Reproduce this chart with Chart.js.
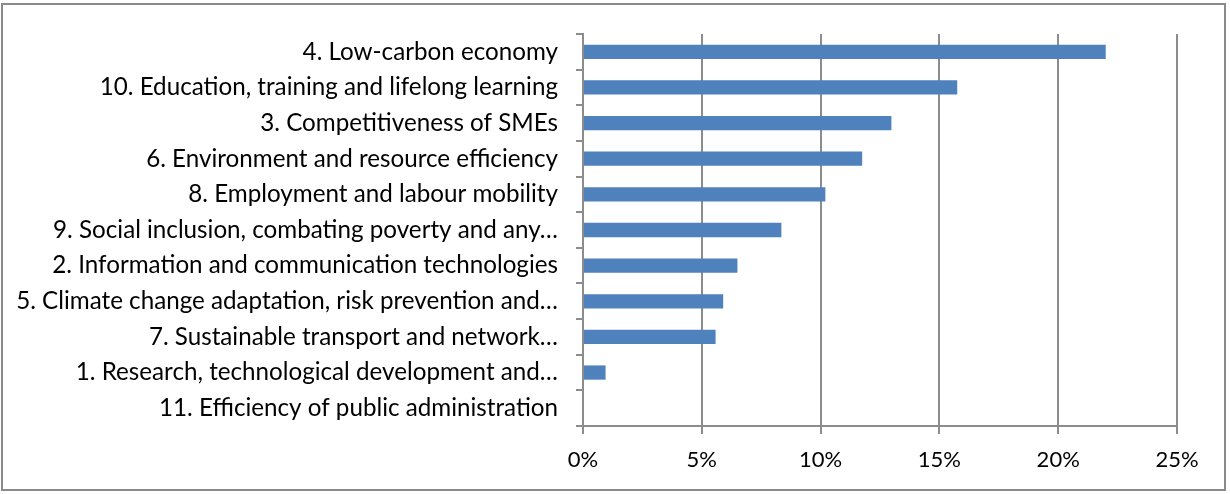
<!DOCTYPE html>
<html>
<head>
<meta charset="utf-8">
<script src="https://cdn.jsdelivr.net/npm/chart.js@4/dist/chart.umd.min.js"></script>
<style>
  html, body { margin: 0; padding: 0; background: #fff; }
  #wrap { position: absolute; left: 0; top: 0; width: 1230px; height: 494px; }
</style>
</head>
<body>
<div id="wrap"><canvas id="myChart" width="1230" height="494"></canvas></div>
<script>
// priority axes, share of allocation
var categories = [
    '4. Low-carbon economy',
    '10. Education, training and lifelong learning',
    '3. Competitiveness of SMEs',
    '6. Environment and resource efficiency',
    '8. Employment and labour mobility',
    '9. Social inclusion, combating poverty and any\u2026',
    '2. Information and communication technologies',
    '5. Climate change adaptation, risk prevention and\u2026',
    '7. Sustainable transport and network\u2026',
    '1. Research, technological development and\u2026',
    '11. Efficiency of public administration'
];
var shares = [22.0, 15.75, 12.98, 11.75, 10.2, 8.35, 6.5, 5.9, 5.58, 0.95, 0];
var xTicks = [0, 5, 10, 15, 20, 25];

var gridGrey = '#8c8c8c';

// white page + grey frame round the whole chart
var frame = {
    id: 'frame',
    beforeDraw: function(chart) {
        var c = chart.ctx;
        c.save();
        c.fillStyle = '#fff';
        c.fillRect(0, 0, chart.width, chart.height);
        c.strokeStyle = '#8a8a8a';
        c.lineWidth = 2;
        c.strokeRect(2, 4, 1223, 486);
        c.restore();
    }
};

var ctx = document.getElementById('myChart').getContext('2d');
var chart = new Chart(ctx, {
    type: 'bar',
    data: {
        labels: categories,
        datasets: [{
            data: shares,
            backgroundColor: '#4f81bd',
            borderWidth: 0,
            barPercentage: 0.8,
            categoryPercentage: 0.5
        }]
    },
    options: {
        indexAxis: 'y',
        responsive: false,
        animation: false,
        layout: { padding: { top: 34, right: 53, left: 0, bottom: 0 } },
        plugins: {
            legend: { display: false },
            tooltip: { enabled: false }
        },
        scales: {
            x: {
                min: 0,
                max: 25,
                afterBuildTicks: function(scale) {
                    scale.ticks = xTicks.map(function(v) { return { value: v }; });
                },
                afterFit: function(scale) { scale.height = 68; },
                ticks: {
                    color: '#000',
                    font: { family: 'Lato', size: 22 },
                    padding: 13,
                    callback: function(v) { return v + '%'; }
                },
                grid: {
                    color: gridGrey,
                    lineWidth: 2,
                    tickLength: 8
                },
                border: { color: gridGrey, width: 2 }
            },
            y: {
                afterFit: function(scale) { scale.width = 583; },
                ticks: {
                    color: '#000',
                    font: { family: 'Lato', size: 24.2 },
                    padding: 18,
                    autoSkip: false
                },
                grid: {
                    drawOnChartArea: false,
                    color: gridGrey,
                    lineWidth: 2,
                    tickLength: 7
                },
                border: { color: gridGrey, width: 2 }
            }
        }
    },
    plugins: [frame]
});
</script>
</body>
</html>
